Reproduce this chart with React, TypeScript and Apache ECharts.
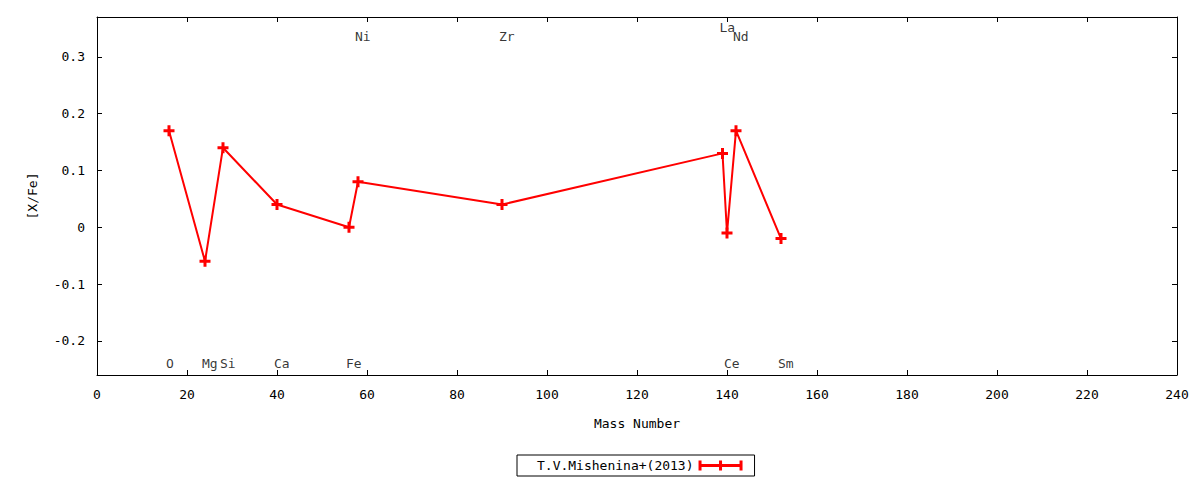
import React, { useEffect, useRef } from "react";
import * as echarts from "echarts";

// Data
const massNumbers = [16, 24, 28, 40, 56, 58, 90, 139, 140, 142, 152];
const xFeValues = [0.17, -0.06, 0.14, 0.04, 0.0, 0.08, 0.04, 0.13, -0.01, 0.17, -0.02];
const elementNames = ["O", "Mg", "Si", "Ca", "Fe", "Ni", "Zr", "La", "Ce", "Nd", "Sm"];
const labelLevels = [-0.24, -0.24, -0.24, -0.24, -0.24, 0.335, 0.335, 0.352, -0.24, 0.335, -0.24];
const seriesName = "T.V.Mishenina+(2013)";

const FONT = "'DejaVu Sans Mono', monospace";
const RED = "#ff0000";

const fmtY = (v: number) => {
  const t = v * 10;
  if (Math.abs(t - Math.round(t)) > 1e-6) return "";
  const r = Math.round(t) / 10;
  return r === 0 ? "0" : String(r);
};

export default function App() {
  const ref = useRef<HTMLDivElement>(null);
  useEffect(() => {
    if (!ref.current) return;
    const chart = echarts.init(ref.current, null, { renderer: "svg" });
    const axisCommon = {
      axisLine: { show: true, onZero: false, lineStyle: { color: "#000", width: 1 } },
      axisTick: { show: true, inside: true, length: 5, lineStyle: { color: "#000", width: 1 } },
      splitLine: { show: false },
    };
    const plusIcon = "path://M4,0H7V4H11V7H7V11H4V7H0V4H4Z";
    const legendIcon =
      "path://M0,4.5H44V7.5H0Z M0,1H3V11H0Z M20.5,1H23.5V11H20.5Z M41,1H44V11H41Z";
    chart.setOption({
      animation: false,
      backgroundColor: "#fff",
      textStyle: { fontFamily: FONT },
      grid: { left: 97, right: 23, top: 17, bottom: 105, containLabel: false },
      legend: {
        data: [{ name: seriesName, icon: legendIcon }],
        left: 517,
        top: 455,
        align: "right",
        itemWidth: 44,
        itemHeight: 12,
        padding: [4, 12, 4, 20],
        borderColor: "#000",
        borderWidth: 1,
        selectedMode: false,
        textStyle: { fontFamily: FONT, fontSize: 13, color: "#000" },
      },
      xAxis: [
        {
          type: "value",
          min: 0,
          max: 240,
          interval: 20,
          position: "bottom",
          name: "Mass Number",
          nameLocation: "middle",
          nameGap: 42,
          nameTextStyle: { fontFamily: FONT, fontSize: 13, color: "#000" },
          axisLabel: { margin: 13, fontFamily: FONT, fontSize: 13, color: "#000" },
          ...axisCommon,
        },
        {
          type: "value",
          min: 0,
          max: 240,
          interval: 20,
          position: "top",
          axisLabel: { show: false },
          ...axisCommon,
        },
      ],
      yAxis: [
        {
          type: "value",
          min: -0.26,
          max: 0.37,
          position: "left",
          name: "[X/Fe]",
          nameLocation: "middle",
          nameGap: 58,
          nameTextStyle: { fontFamily: FONT, fontSize: 13, color: "#000" },
          axisLabel: {
            margin: 12,
            fontFamily: FONT,
            fontSize: 13,
            color: "#000",
            formatter: fmtY,
            showMinLabel: false,
            showMaxLabel: false,
          },
          ...axisCommon,
        },
        {
          type: "value",
          min: -0.26,
          max: 0.37,
          position: "right",
          axisLabel: { show: false },
          ...axisCommon,
        },
      ],
      series: [
        {
          name: seriesName,
          type: "line",
          xAxisIndex: 0,
          yAxisIndex: 0,
          data: massNumbers.map((m, i) => [m, xFeValues[i]]),
          lineStyle: { color: RED, width: 2 },
          itemStyle: { color: RED },
          symbol: plusIcon,
          symbolSize: 11,
          showAllSymbol: true,
          z: 3,
        },
        {
          name: "labels",
          type: "scatter",
          xAxisIndex: 0,
          yAxisIndex: 0,
          symbolSize: 0,
          silent: true,
          data: massNumbers.map((m, i) => ({ value: [m, labelLevels[i]], name: elementNames[i] })),
          label: {
            show: true,
            position: [-3, 0],
            align: "left",
            verticalAlign: "middle",
            formatter: (p: any) => p.name,
            fontFamily: FONT,
            fontSize: 13,
            color: "#000",
          },
          z: 4,
        },
      ],
    });
    return () => chart.dispose();
  }, []);
  return (
    <div
      ref={ref}
      style={{ position: "fixed", left: 0, top: 0, width: 1200, height: 480, background: "#fff" }}
    />
  );
}
